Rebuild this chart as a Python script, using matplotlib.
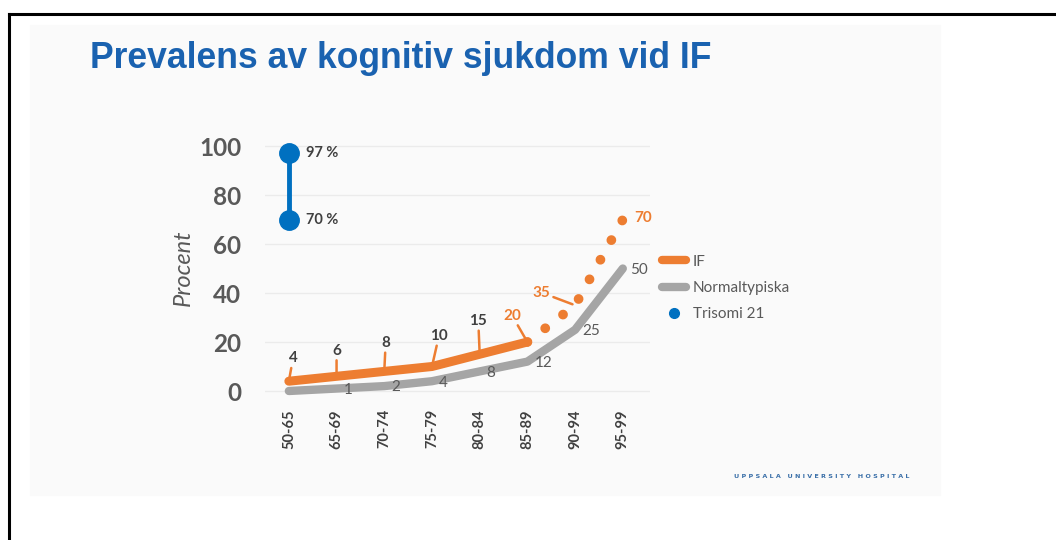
import matplotlib.pyplot as plt
from matplotlib.lines import Line2D
from matplotlib.patches import Rectangle

# data
age_groups = ["50-65", "65-69", "70-74", "75-79", "80-84", "85-89", "90-94", "95-99"]
if_values = [4, 6, 8, 10, 15, 20]          # measured part (solid)
if_projected = [20, 35, 70]                # 85-89 .. 95-99 (dotted)
normal_values = [0, 1, 2, 4, 8, 12, 25, 50]
trisomi_values = [97, 70]

ORANGE = "#ED7D31"
GRAY = "#A5A5A5"
BLUE = "#0070C0"
TXT = "#595959"
FONT = ["Lato", "DejaVu Sans"]


def main():
    fig = plt.figure(figsize=(10.56, 5.4), dpi=100)
    fig.patch.set_facecolor("white")

    # slide background + black frame
    fig.patches.append(Rectangle((30 / 1056, 1 - 495 / 540), 910 / 1056, 470 / 540,
                                 transform=fig.transFigure, color="#fafafa", zorder=-5))
    fig.add_artist(Line2D([9 / 1056, 1], [1 - 14 / 540, 1 - 14 / 540], color="black", lw=2.2,
                          transform=fig.transFigure))
    fig.add_artist(Line2D([9 / 1056, 9 / 1056], [0, 1 - 14 / 540], color="black", lw=2.2,
                          transform=fig.transFigure))

    fig.text(90 / 1056, 1 - 59 / 540, "Prevalens av kognitiv sjukdom vid IF",
             family=["Liberation Sans Narrow", "Liberation Sans"], fontweight="bold",
             fontsize=25.6, color="#1a62b0", ha="left", va="center")

    ax = fig.add_axes([265 / 1056, 1 - 400.8 / 540, 385 / 1056, 267 / 540])
    ax.set_zorder(2)
    ax.set_facecolor("none")
    x = list(range(len(age_groups)))

    ax.plot(x, normal_values, color=GRAY, lw=6, solid_capstyle="round",
            solid_joinstyle="round", label="Normaltypiska", zorder=2)
    ax.plot(x[:len(if_values)], if_values, color=ORANGE, lw=6.5, solid_capstyle="round",
            solid_joinstyle="round", label="IF", zorder=3)
    ax.plot(x[len(if_values) - 1:], if_projected, color=ORANGE, lw=7,
            linestyle=(0, (0.01, 2.3)), dash_capstyle="round", zorder=3)
    ax.plot([x[0], x[0]], trisomi_values, color=BLUE, lw=3.5, marker="o", ms=14,
            label="Trisomi 21", zorder=4)

    # labels for IF with leader lines
    if_offsets = [(3, 11.5), (0, 13.5), (1, 15.5), (5, 17), (-1, 19), (-11, 14)]
    for i, v in enumerate(if_values):
        col = ORANGE if i == len(if_values) - 1 else "#404040"
        ax.annotate(str(v), (x[i], v), xytext=if_offsets[i], textcoords="offset points",
                    ha="center", va="bottom", fontsize=11, fontweight="bold", color=col,
                    family=FONT,
                    arrowprops=dict(arrowstyle="-", color=ORANGE, lw=1.8, shrinkA=0, shrinkB=2))
    ax.annotate(str(if_projected[1]), (x[6], if_projected[1]), xytext=(-24, 4),
                textcoords="offset points", ha="center", va="bottom", fontsize=11,
                fontweight="bold", color=ORANGE, family=FONT,
                arrowprops=dict(arrowstyle="-", color=ORANGE, lw=1.8, shrinkA=0, shrinkB=2))
    ax.annotate(str(if_projected[2]), (x[7], if_projected[2]), xytext=(8, 1),
                textcoords="offset points", ha="left", va="center", fontsize=11,
                fontweight="bold", color=ORANGE, family=FONT)

    for i, v in enumerate(normal_values):
        if i == 0:
            continue
        ax.annotate(str(v), (x[i], v), xytext=(5, -1), textcoords="offset points",
                    ha="left", va="center", fontsize=11, color=TXT, family=FONT)

    for v in trisomi_values:
        ax.annotate(f"{v} %", (x[0], v), xytext=(12, 0), textcoords="offset points",
                    ha="left", va="center", fontsize=10.5, fontweight="bold", color="#404040",
                    family=FONT)

    ax.set_xlim(-0.5, 7.57)
    ax.set_ylim(-4, 105)
    ax.set_yticks([0, 20, 40, 60, 80, 100])
    ax.set_xticks(x)
    ax.set_xticklabels(age_groups, rotation=90, fontsize=10.5, fontweight="bold",
                       color="#404040", family=FONT)
    for t in ax.get_yticklabels():
        t.set_fontsize(17.5)
        t.set_fontweight("bold")
        t.set_color(TXT)
        t.set_family(FONT)
    ax.tick_params(length=0, axis="y", pad=17)
    ax.tick_params(length=0, axis="x", pad=6)
    ax.grid(axis="y", color="#ebebeb", lw=1)
    ax.set_axisbelow(True)
    for s in ax.spines.values():
        s.set_visible(False)

    fig.text(183 / 1056, 1 - 268 / 540, "Procent", rotation=90, fontsize=17, style="italic",
             color=TXT, family=FONT, ha="center", va="center")

    handles = [Line2D([], [], color=ORANGE, lw=6, solid_capstyle="round"),
               Line2D([], [], color=GRAY, lw=6, solid_capstyle="round"),
               Line2D([], [], color=BLUE, lw=0, marker="o", ms=7)]
    leg = ax.legend(handles, ["IF", "Normaltypiska", "Trisomi 21"], frameon=False,
                    loc="upper left", bbox_to_anchor=(648 / 1056, 1 - 241 / 540),
                    bbox_transform=fig.transFigure, handlelength=1.6, labelspacing=0.8,
                    handletextpad=0.45, prop={"family": FONT, "size": 11})
    for t in leg.get_texts():
        t.set_color(TXT)

    fig.text(822 / 1056, 1 - 476 / 540, "U P P S A L A   U N I V E R S I T Y   H O S P I T A L",
             fontsize=4.6, fontweight="bold", color="#3a6fa8", ha="center", va="center",
             family=["DejaVu Sans"])

    fig.savefig("out.png", dpi=100)


if __name__ == "__main__":
    main()
